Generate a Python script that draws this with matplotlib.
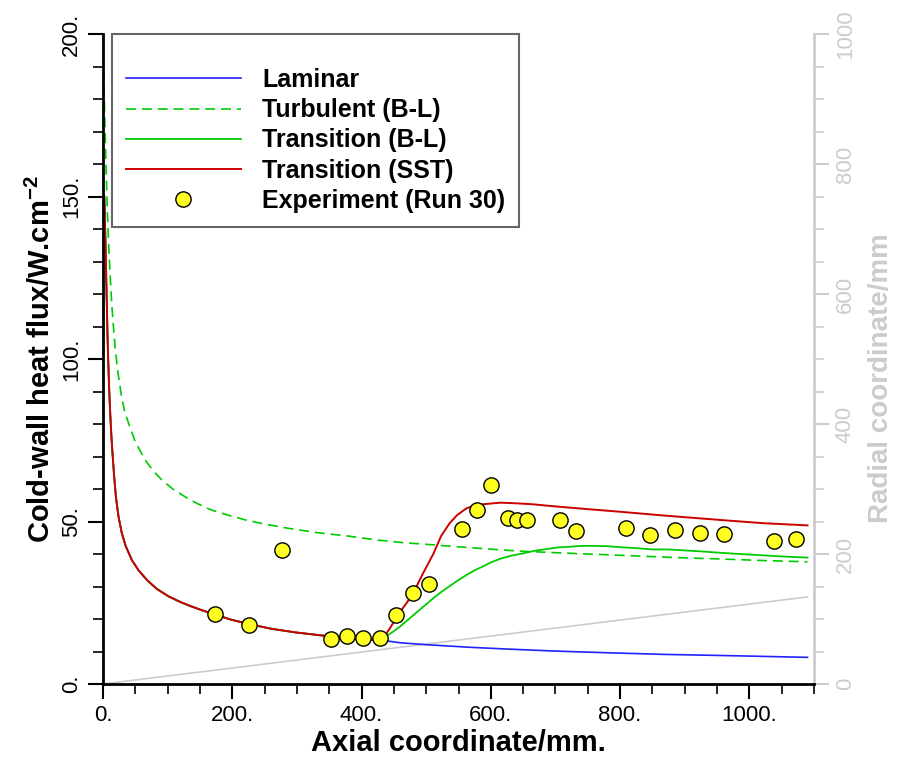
import numpy as np
import matplotlib
matplotlib.use("Agg")
import matplotlib.pyplot as plt
from matplotlib.ticker import MultipleLocator

plt.rcParams['font.family'] = ['Liberation Sans', 'DejaVu Sans']
plt.rcParams['mathtext.fontset'] = 'custom'
plt.rcParams['mathtext.rm'] = 'Liberation Sans'
plt.rcParams['mathtext.bf'] = 'Liberation Sans:bold'

# laminar, leading part shared by the transition curves (up to ~430 mm)
lam_x = [2, 3, 4, 5, 6, 7, 8, 9.5, 11, 12.5, 14, 17, 20, 24, 29, 35, 45, 55, 68, 83, 101,
         120, 135, 153, 173, 198, 225, 260, 297, 340, 382, 430]
lam_y = [150, 143, 134, 125, 116, 107, 100, 91, 84, 78, 73, 64.5, 57.5, 51.5, 46.5, 42.5, 38,
         35, 32, 29.3, 27, 25.2, 24, 22.7, 21.4, 19.8, 18.5, 17, 15.9, 14.9, 14.1, 13.5]
# laminar after transition onset
lam2_x = [459, 500, 567, 620, 691, 750, 800, 870, 950, 1020, 1090]
lam2_y = [12.7, 12.1, 11.3, 10.8, 10.2, 9.8, 9.5, 9.1, 8.8, 8.5, 8.2]

turb_x = [1, 3, 5, 7, 9, 11, 13.5, 16.5, 19.5, 23, 29, 34, 40, 50, 65, 78, 91, 108, 127, 147,
          168, 193, 220, 250, 287, 330, 380, 420, 464, 505, 550, 600, 644, 700, 750, 800, 850,
          900, 950, 1020, 1090]
turb_y = [189, 172, 157, 144, 134, 126, 117, 109, 102, 96, 88, 83.5, 80, 74.5, 69, 65.5, 62.8,
          60, 57.6, 55.4, 53.5, 52, 50.5, 49.2, 47.9, 46.6, 45.5, 44.4, 43.5, 42.9, 42.2, 41.5,
          40.9, 40.4, 40.0, 39.6, 39.2, 38.8, 38.5, 38.0, 37.6]

# transition tails (after departure from laminar)
trbl_x = [433, 446, 459, 472, 485, 498, 511, 524, 537, 550, 562, 575, 588, 600, 614, 632, 650,
          668, 686, 703, 720, 740, 758, 780, 800, 825, 850, 875, 900, 925, 953, 985, 1020, 1055,
          1090]
trbl_y = [14.1, 15.7, 17.6, 19.8, 22, 24.2, 26.4, 28.4, 30.2, 32, 33.5, 35, 36.2, 37.4, 38.5,
          39.5, 40.2, 41, 41.5, 42, 42.2, 42.5, 42.5, 42.4, 42.1, 41.8, 41.4, 41.4, 41.1, 40.8,
          40.4, 40, 39.6, 39.2, 38.9]

sst_x = [433, 445, 459, 470, 480, 495, 511, 523, 536, 548, 562, 575, 593, 615, 639, 665, 691,
         720, 750, 800, 870, 953, 1020, 1090]
sst_y = [14, 17.5, 22, 25, 28, 34, 40, 45.5, 49.4, 52, 54, 55, 55.4, 55.8, 55.6, 55.3, 54.8,
         54.3, 53.8, 53, 51.8, 50.5, 49.5, 48.8]

exp_x = [173, 226, 277, 353, 377, 403, 429, 454, 479, 505, 556, 579, 600, 626, 641, 656,
         707, 732, 809, 847, 885, 923, 961, 1038, 1072]
exp_y = [21.5, 18.2, 41.2, 13.8, 14.8, 14.1, 14.1, 21.2, 27.9, 30.7, 47.6, 53.5, 61.2, 51.2, 50.5,
         50.5, 50.5, 47.2, 47.9, 45.8, 47.3, 46.6, 46.3, 43.9, 44.5]

# radial coordinate of body (right axis)
rad_x = [0, 1090]
rad_y = [0, 134]

xticks = [0, 200, 400, 600, 800, 1000]
yticks = [0, 50, 100, 150, 200]
rticks = [0, 200, 400, 600, 800, 1000]

gray = '#cccccc'

fig = plt.figure(figsize=(9.01, 7.6), dpi=100)
ax = fig.add_axes([103/901, 1-684/760, (814-103)/901, (684-34)/760])
ax2 = ax.twinx()
ax.set_zorder(ax2.get_zorder() + 1)
ax.patch.set_visible(False)

ax2.plot(rad_x, rad_y, color=gray, lw=1.2)
ax2.set_ylim(0, 1000)

ax.plot(lam_x + lam2_x, lam_y + lam2_y, color='#2222ff', lw=1.2, label='Laminar')
ax.plot(turb_x, turb_y, color='#00cc00', lw=1.2, ls=(0, (6, 3.5)), label='Turbulent (B-L)')
ax.plot(lam_x + trbl_x, lam_y + trbl_y, color='#00cc00', lw=1.3, label='Transition (B-L)')
ax.plot(lam_x + sst_x, lam_y + sst_y, color='#cc0000', lw=1.4, label='Transition (SST)')
ax.plot(exp_x, exp_y, 'o', ms=11, mfc='#ffff22', mec='black', mew=1.0, ls='none',
        label='Experiment (Run 30)')

ax.set_xlim(0, 1100)
ax.set_ylim(0, 200)
ax.set_xticks(xticks)
ax.set_xticklabels([f'{t}.' for t in xticks])
ax.set_yticks(yticks)
ax.set_yticklabels([f'{t}.' for t in yticks], rotation=90, va='center')
ax.xaxis.set_minor_locator(MultipleLocator(50))
ax.yaxis.set_minor_locator(MultipleLocator(10))
ax.tick_params(which='major', direction='out', length=11, width=1.5, labelsize=16, pad=4)
ax.tick_params(which='minor', direction='out', length=7, width=1.2)
for s in ['top', 'right']:
    ax.spines[s].set_visible(False)
for s in ['left', 'bottom']:
    ax.spines[s].set_linewidth(2)

ax2.set_yticks(rticks)
ax2.set_yticklabels([str(t) for t in rticks], rotation=90, va='center')
ax2.yaxis.set_minor_locator(MultipleLocator(50))
ax2.tick_params(which='major', direction='out', length=11, width=1.5, labelsize=16,
                colors=gray, pad=4)
ax2.tick_params(which='minor', direction='out', length=7, width=1.2, colors=gray)
for s in ['top', 'left', 'bottom']:
    ax2.spines[s].set_visible(False)
ax2.spines['right'].set_color(gray)
ax2.spines['right'].set_linewidth(2)

ax.set_xlabel('Axial coordinate/mm.', fontsize=21, fontweight='bold', labelpad=2)
ax.set_ylabel(r'Cold-wall heat flux/W.cm$^{\mathbf{-2}}$', fontsize=21, fontweight='bold',
              labelpad=4)
ax2.set_ylabel('Radial coordinate/mm', fontsize=20, fontweight='bold', color=gray)
ax2.yaxis.set_label_coords(1.076, 0.47)

leg = ax.legend(loc='upper left', bbox_to_anchor=(0.013, 1.0), borderaxespad=0,
                prop={'weight': 'bold', 'size': 18}, handlelength=4.6, handletextpad=0.84,
                labelspacing=0.25, borderpad=0.55, fancybox=False, framealpha=1,
                edgecolor='#666666', title=' ', title_fontsize=10)
leg.get_frame().set_linewidth(1.5)

fig.savefig('out.png', dpi=100)
